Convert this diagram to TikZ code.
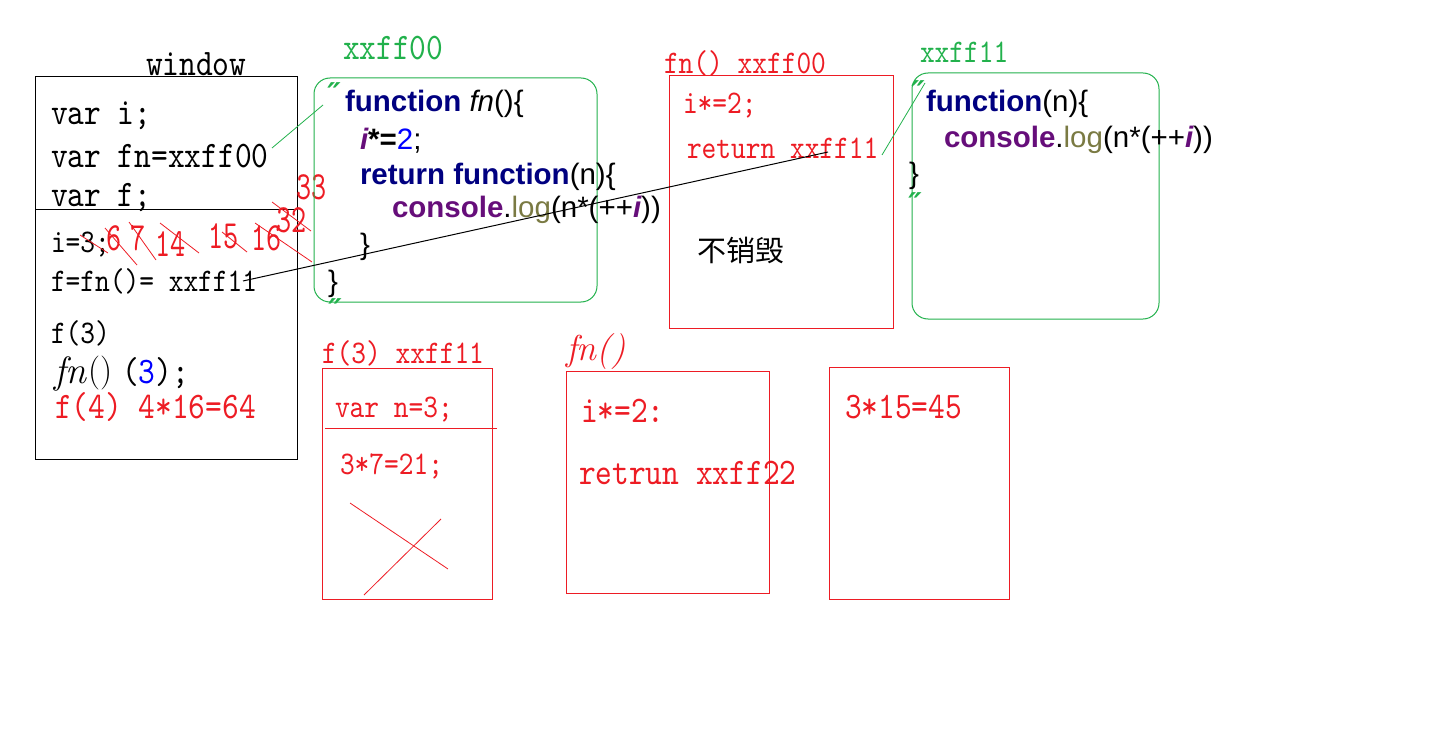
\documentclass[tikz,border=0pt]{standalone}
\usepackage{fontspec}
\newfontfamily\simfont[FakeStretch=0.85]{lmmono10-regular.otf}
\newfontfamily\numfont[FakeStretch=0.72]{lmmono10-regular.otf}
\newfontfamily\codefont{Liberation Sans}
\newfontfamily\cjkfont{Noto Sans CJK SC}
\newfontfamily\quotefont{DejaVu Sans}
\definecolor{pred}{RGB}{237,28,36}
\definecolor{pgreen}{RGB}{34,177,76}
\definecolor{kwnavy}{RGB}{0,0,128}
\definecolor{kwpurple}{RGB}{102,14,122}
\definecolor{kwolive}{RGB}{122,122,67}
\definecolor{numblue}{RGB}{0,0,255}
\tikzset{
  txt/.style={inner sep=0pt, outer sep=0pt, anchor=base west},
  simbig/.style={txt, font=\simfont\fontsize{37.5}{40}\selectfont},
  simsm/.style={txt, font=\simfont\fontsize{33}{36}\selectfont},
  simnum/.style={txt, text=pred, font=\numfont\fontsize{40}{42}\selectfont},
  code/.style={txt, font=\codefont\fontsize{29.5}{32}\selectfont},
  ditto/.style={inner sep=0pt, text=pgreen, font=\quotefont\bfseries\itshape\fontsize{30}{32}\selectfont},
  memblk/.style={draw, line width=1pt, inner sep=0pt, outer sep=0pt, anchor=north west},
  redblk/.style={memblk, draw=pred},
  fnblk/.style={memblk, draw=pgreen, rounded corners=16pt},
  strike/.style={pred, line width=0.8pt},
  ptr/.style={line width=1pt},
}
\newcommand{\kw}[1]{{\bfseries\color{kwnavy}#1}}
\newcommand{\pv}[1]{{\bfseries\itshape\color{kwpurple}#1}}
\newcommand{\consolelog}{{\bfseries\color{kwpurple}console}.{\color{kwolive}log}(n*(++\pv{i}))}
\begin{document}
\begin{tikzpicture}[x=1pt,y=-1pt]
\useasboundingbox (0,0) rectangle (1442,730);

% ---- global scope: window ----
\node[memblk, minimum width=262pt, minimum height=382pt] (win) at (35,77) {};
\draw[line width=1pt] (35,209) coordinate (wdivL) -- (297,209) coordinate (wdivR);
\node[simbig] (wlabel) at (146,76) {window};
\node[simbig] (wv1) at (51,125) {var i;};
\node[simbig] (wv2) at (51,168) {var fn=xxff00};
\node[simbig] (wv3) at (51,207) {var f;};
\node[simsm] (wi) at (51,252) {i=3;};
\node[simnum] (n6) at (106,250) {6};
\node[simnum] (n7) at (130,250) {7};
\node[simnum] (n14) at (155,256) {14};
\node[simnum] (n15) at (208,248) {15};
\node[simnum] (n16) at (251,250) {16};
\node[simnum] (n32) at (276,232) {32};
\node[simnum] (n33) at (296,200) {33};
\node[simsm] (wf) at (51,291) {f=fn()= xxff11};
\node[simsm] (wf3) at (51,343) {f(3)};
\node[txt, font=\itshape\fontsize{38}{40}\selectfont] (wfn) at (54,383) {fn};
\node[txt, font=\fontsize{34}{38}\selectfont] (wpar) at (88,381) {()};
\node[simbig] (wcall) at (122,383) {(\textcolor{numblue}{3});};
\node[simbig, text=pred] (wf4) at (55,418) {f(4) 4*16=64};

% crossed-out values of i
\draw[strike] (80,235) -- (108,253);
\draw[strike] (105,228) -- (137,265);
\draw[strike] (129,222) -- (156,260);
\draw[strike] (160,223) -- (199,253);
\draw[strike] (222,232) -- (247,252);
\draw[strike] (255,223) -- (312,262);
\draw[strike] (272,202) -- (311,231);

% ---- function object xxff00 ----
\node[fnblk, minimum width=283pt, minimum height=224pt] (fobj1) at (314,78) {};
\node[simbig, text=pgreen] (addr1) at (343,60) {xxff00};
\node[ditto] (q1a) at (334,94) {″};
\node[ditto] (q1b) at (335,310) {″};
\node[code] (c1) at (345,112) {\kw{function} {\itshape fn}()\{};
\node[code] (c2) at (360,150) {\pv{i}\textbf{*=}\textcolor{numblue}{2};};
\node[code] (c3) at (360,185) {\kw{return function}(n)\{};
\node[code] (c4) at (392,218) {\consolelog};
\node[code] (c5) at (360,254) {\}};
\node[code] (c6) at (328,291) {\}};

% ---- scope of fn() call ----
\node[redblk, minimum width=224pt, minimum height=252pt] (scope1) at (669,76) {};
\node[simsm, text=pred] (s1lab) at (664,74) {fn() xxff00};
\node[simsm, text=pred] (s1a) at (683,114) {i*=2;};
\node[simsm, text=pred] (s1b) at (687,159) {return xxff11};
\node[txt, anchor=west, font=\cjkfont\fontsize{29}{32}\selectfont] (keep) at (697,250) {不销毁};

% ---- function object xxff11 ----
\node[fnblk, minimum width=247pt, minimum height=246pt] (fobj2) at (912,73) {};
\node[simsm, text=pgreen] (addr2) at (920,63) {xxff11};
\node[ditto] (q2a) at (918,92) {″};
\node[ditto] (q2b) at (915,204) {″};
\node[code] (d1) at (926,112) {\kw{function}(n)\{};
\node[code] (d2) at (944,148) {\consolelog};
\node[code] (d3) at (909,184) {\}};

% ---- scope of f(3) ----
\node[redblk, minimum width=170pt, minimum height=231pt] (scope2) at (322,368) {};
\node[simsm, text=pred] (s2lab) at (322,363) {f(3) xxff11};
\node[simsm, text=pred] (s2a) at (335,417) {var n=3;};
\draw[pred, line width=1pt] (325,428) coordinate (s2divL) -- (497,428) coordinate (s2divR);
\node[simsm, text=pred] (s2b) at (340,474) {3*7=21;};
\draw[strike] (350,503) coordinate (xa1) -- (448,569) coordinate (xa2);
\draw[strike] (441,519) coordinate (xb1) -- (364,595) coordinate (xb2);

% ---- second fn() call ----
\node[redblk, minimum width=203pt, minimum height=222pt] (scope3) at (566,371) {};
\node[txt, text=pred, font=\itshape\fontsize{36}{38}\selectfont] (s3lab) at (566,360) {fn()};
\node[simbig, text=pred] (s3a) at (581,422) {i*=2:};
\node[simbig, text=pred] (s3b) at (579,484) {retrun xxff22};

% ---- third scope ----
\node[redblk, minimum width=180pt, minimum height=232pt] (scope4) at (829,367) {};
\node[simbig, text=pred] (s4a) at (845,418) {3*15=45};

% ---- references ----
\coordinate (fnref) at (272,148);
\coordinate (fnobj) at (323,105);
\draw[pgreen, line width=0.8pt] (fnref) -- (fnobj);
\coordinate (fref) at (243,281);
\coordinate (retref) at (828,152);
\draw[ptr] (fref) -- (retref);
\coordinate (retptr) at (882,155);
\coordinate (fobj2in) at (925,83);
\draw[pgreen, line width=0.8pt] (retptr) -- (fobj2in);
\end{tikzpicture}
\end{document}
